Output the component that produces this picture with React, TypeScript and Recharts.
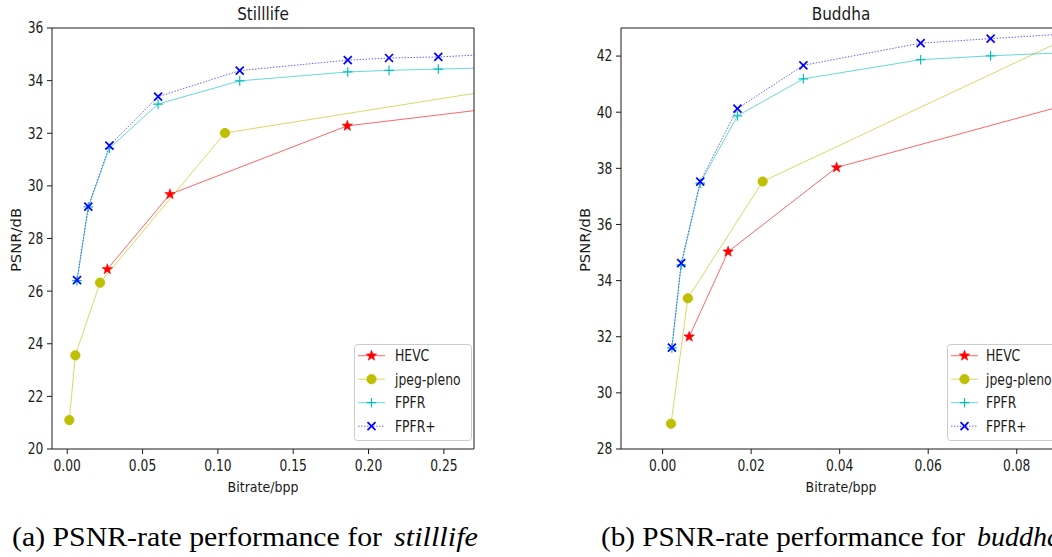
import { LineChart, Line, XAxis, YAxis, Legend, Label } from 'recharts'

// Stilllife (bitrate in bpp, PSNR in dB); last point of each curve lies past the x limit
const stillHevcRate = [0.0266, 0.0682, 0.1859, 0.33]
const stillHevcPsnr = [26.83, 29.68, 32.28, 33.27]
const stillJpegRate = [0.0014, 0.0054, 0.0218, 0.1047, 0.33]
const stillJpegPsnr = [21.1, 23.56, 26.32, 32.01, 34.06]
const stillFpfrRate = [0.0065, 0.014, 0.028, 0.0603, 0.1145, 0.1862, 0.2136, 0.2463, 0.3]
const stillFpfrPsnr = [26.4, 29.2, 31.43, 33.11, 33.99, 34.33, 34.39, 34.44, 34.51]
const stillFpfrPlusPsnr = [26.42, 29.21, 31.53, 33.39, 34.38, 34.78, 34.86, 34.9, 35.05]

// Buddha
const buddhaHevcRate = [0.006, 0.0148, 0.0393, 0.1]
const buddhaHevcPsnr = [32.0, 35.03, 38.03, 40.64]
const buddhaJpegRate = [0.0019, 0.0057, 0.0226, 0.1]
const buddhaJpegPsnr = [28.9, 33.37, 37.53, 43.27]
const buddhaFpfrRate = [0.0021, 0.0042, 0.0085, 0.0169, 0.0318, 0.0583, 0.0741, 0.1]
const buddhaFpfrPsnr = [31.6, 34.56, 37.47, 39.87, 41.19, 41.87, 42.01, 42.18]
const buddhaFpfrPlusPsnr = [31.61, 34.62, 37.53, 40.13, 41.67, 42.46, 42.62, 42.88]

const stillXTicks = [0, 0.05, 0.1, 0.15, 0.2, 0.25]
const stillYTicks = [20, 22, 24, 26, 28, 30, 32, 34, 36]
const buddhaXTicks = [0, 0.02, 0.04, 0.06, 0.08]
const buddhaYTicks = [28, 30, 32, 34, 36, 38, 40, 42]

const SANS = "'DejaVu Sans', sans-serif"
const SERIF = "'Liberation Serif', 'DejaVu Serif', serif"
const INK = '#1a1a1a'

type MarkerKind = 'star' | 'circle' | 'plus' | 'cross'
type Pt = { x: number; y: number }
type Series = { name: string; color: string; marker: MarkerKind; dotted?: boolean; points: Pt[] }

const zip = (xs: number[], ys: number[]): Pt[] => xs.map((x, i) => ({ x, y: ys[i] }))

const makeSeries = (
  hevc: Pt[],
  jpeg: Pt[],
  fpfr: Pt[],
  fpfrPlus: Pt[],
): Series[] => [
  { name: 'HEVC', color: '#ff0000', marker: 'star', points: hevc },
  { name: 'jpeg-pleno', color: '#bfbf00', marker: 'circle', points: jpeg },
  { name: 'FPFR', color: '#00bfbf', marker: 'plus', points: fpfr },
  { name: 'FPFR+', color: '#0000ff', marker: 'cross', dotted: true, points: fpfrPlus },
]

const stillSeries = makeSeries(
  zip(stillHevcRate, stillHevcPsnr),
  zip(stillJpegRate, stillJpegPsnr),
  zip(stillFpfrRate, stillFpfrPsnr),
  zip(stillFpfrRate, stillFpfrPlusPsnr),
)
const buddhaSeries = makeSeries(
  zip(buddhaHevcRate, buddhaHevcPsnr),
  zip(buddhaJpegRate, buddhaJpegPsnr),
  zip(buddhaFpfrRate, buddhaFpfrPsnr),
  zip(buddhaFpfrRate, buddhaFpfrPlusPsnr),
)

const SqText = ({ x, y, size, sx = 1, anchor = 'start', rotate = 0, children }: any) => (
  <text
    transform={`translate(${x},${y}) rotate(${rotate}) scale(${sx},1)`}
    fontSize={size}
    fontFamily={SANS}
    textAnchor={anchor}
    fill={INK}
  >
    {children}
  </text>
)

const Marker = ({ kind, cx, cy, color }: { kind: MarkerKind; cx: number; cy: number; color: string }) => {
  if (kind === 'circle') return <circle cx={cx} cy={cy} r={4.6} fill={color} stroke={color} />
  if (kind === 'plus')
    return <path d={`M${cx - 4.8},${cy}H${cx + 4.8}M${cx},${cy - 4.8}V${cy + 4.8}`} stroke={color} strokeWidth={1.2} />
  if (kind === 'cross')
    return (
      <path
        d={`M${cx - 4},${cy - 4}L${cx + 4},${cy + 4}M${cx - 4},${cy + 4}L${cx + 4},${cy - 4}`}
        stroke={color}
        strokeWidth={1.7}
      />
    )
  const pts: string[] = []
  for (let i = 0; i < 10; i++) {
    const r = i % 2 === 0 ? 5.6 : 2.3
    const a = -Math.PI / 2 + (i * Math.PI) / 5
    pts.push(`${cx + r * Math.cos(a)},${cy + r * Math.sin(a)}`)
  }
  return <polygon points={pts.join(' ')} fill={color} stroke={color} strokeWidth={0.5} />
}

const LegendBox = ({ series, textX }: { series: Series[]; textX: number }) => (
  <svg width={120} height={98} style={{ display: 'block' }}>
    <rect x={0.5} y={0.5} width={117} height={96} rx={3} fill="#fff" fillOpacity={0.8} stroke="#cccccc" />
    {series.map((s, i) => {
      const cy = 11.7 + i * 23.5
      return (
        <g key={s.name}>
          <line
            x1={4}
            x2={31}
            y1={cy}
            y2={cy}
            stroke={s.color}
            strokeOpacity={0.6}
            strokeDasharray={s.dotted ? '1.5 1.5' : undefined}
          />
          <Marker kind={s.marker} cx={17.5} cy={cy} color={s.color} />
          <SqText x={textX} y={cy + 5.6} size={15.5} sx={0.8}>
            {s.name}
          </SqText>
        </g>
      )
    })}
  </svg>
)

type ChartProps = {
  title: string
  series: Series[]
  width: number
  xDomain: [number, number]
  xTicks: number[]
  yDomain: [number, number]
  yTicks: number[]
  legendLeft: number
  legendTextX: number
}

const PsnrChart = ({ title, series, width, xDomain, xTicks, yDomain, yTicks, legendLeft, legendTextX }: ChartProps) => (
  <LineChart width={width} height={500} margin={{ top: 0, right: 0, bottom: 0, left: 0 }}>
    <XAxis
      xAxisId="top"
      orientation="top"
      type="number"
      domain={[0, 1]}
      ticks={[]}
      tick={false}
      tickLine={false}
      height={28}
      axisLine={{ stroke: INK }}
    >
      <Label
        content={(p: any) => (
          <SqText x={p.viewBox.x + p.viewBox.width / 2} y={19.5} size={17} sx={0.9} anchor="middle">
            {title}
          </SqText>
        )}
      />
    </XAxis>
    <XAxis
      type="number"
      dataKey="x"
      domain={xDomain}
      allowDataOverflow
      ticks={xTicks}
      height={51}
      tickSize={5}
      tickMargin={0}
      axisLine={{ stroke: INK }}
      tickLine={{ stroke: INK }}
      tick={(p: any) => (
        <SqText x={p.x} y={p.y + 16.7} size={15} sx={0.82} anchor="middle">
          {Number(p.payload.value).toFixed(2)}
        </SqText>
      )}
    >
      <Label
        content={(p: any) => (
          <SqText x={p.viewBox.x + p.viewBox.width / 2} y={492} size={14} sx={0.9} anchor="middle">
            Bitrate/bpp
          </SqText>
        )}
      />
    </XAxis>
    <YAxis
      type="number"
      domain={yDomain}
      allowDataOverflow
      ticks={yTicks}
      width={52}
      tickSize={5}
      tickMargin={0}
      axisLine={{ stroke: INK }}
      tickLine={{ stroke: INK }}
      tick={(p: any) => (
        <SqText x={p.x - 3.7} y={p.y + 5.4} size={15} sx={0.82} anchor="end">
          {p.payload.value}
        </SqText>
      )}
    >
      <Label
        content={(p: any) => (
          <SqText x={p.viewBox.x + 20.5} y={p.viewBox.y + p.viewBox.height / 2 + 1.5} size={14.8} rotate={-90} anchor="middle">
            PSNR/dB
          </SqText>
        )}
      />
    </YAxis>
    <YAxis
      yAxisId="right"
      orientation="right"
      type="number"
      domain={[0, 1]}
      ticks={[]}
      tick={false}
      tickLine={false}
      width={6}
      axisLine={{ stroke: INK }}
    />
    {series.map((s) => (
      <Line
        key={s.name}
        name={s.name}
        data={s.points}
        dataKey="y"
        type="linear"
        stroke={s.color}
        strokeOpacity={0.6}
        strokeWidth={1}
        strokeDasharray={s.dotted ? '1.5 1.5' : undefined}
        isAnimationActive={false}
        dot={(p: any) => {
          const k = `${s.name}-${p.index}`
          if (p.payload.x > xDomain[1] || p.cx == null) return <g key={k} />
          return <Marker key={k} kind={s.marker} cx={p.cx} cy={p.cy} color={s.color} />
        }}
        activeDot={false}
      />
    ))}
    <Legend
      layout="vertical"
      align="center"
      verticalAlign="middle"
      wrapperStyle={{ left: legendLeft, top: 344, width: 120, height: 98 }}
      content={() => <LegendBox series={series} textX={legendTextX} />}
    />
  </LineChart>
)

export default function App() {
  return (
    <div
      style={{
        position: 'fixed',
        left: 0,
        top: 0,
        width: 1052,
        height: 557,
        overflow: 'hidden',
        background: '#fff',
      }}
    >
      <div style={{ position: 'absolute', left: 0, top: 0 }}>
        <PsnrChart
          title="Stilllife"
          series={stillSeries}
          width={480}
          xDomain={[-0.0101, 0.27]}
          xTicks={stillXTicks}
          yDomain={[20, 36]}
          yTicks={stillYTicks}
          legendLeft={354}
          legendTextX={41}
        />
      </div>
      <div style={{ position: 'absolute', left: 569, top: 0 }}>
        <PsnrChart
          title="Buddha"
          series={buddhaSeries}
          width={498}
          xDomain={[-0.0094, 0.09]}
          xTicks={buddhaXTicks}
          yDomain={[28, 43]}
          yTicks={buddhaYTicks}
          legendLeft={378}
          legendTextX={39}
        />
      </div>
      <svg width={1052} height={57} style={{ position: 'absolute', left: 0, top: 500 }}>
        <g fontFamily={SERIF} fontSize={27} fill="#000">
          <text x={12} y={46} textLength={370} lengthAdjust="spacingAndGlyphs">
            (a) PSNR-rate performance for
          </text>
          <text x={394} y={46} fontStyle="italic" textLength={84} lengthAdjust="spacingAndGlyphs">
            stilllife
          </text>
          <text x={601} y={46} textLength={364} lengthAdjust="spacingAndGlyphs">
            (b) PSNR-rate performance for
          </text>
          <text x={977} y={46} fontStyle="italic" textLength={84} lengthAdjust="spacingAndGlyphs">
            buddha
          </text>
        </g>
      </svg>
    </div>
  )
}
